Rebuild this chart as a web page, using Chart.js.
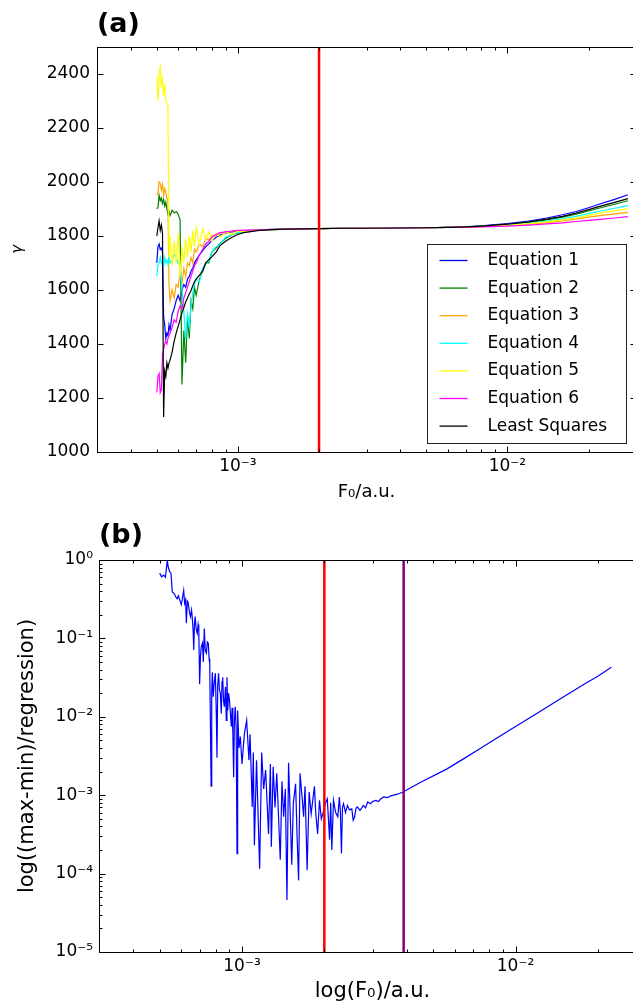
<!DOCTYPE html>
<html>
<head>
<meta charset="utf-8">
<title>gamma vs F0</title>
<script src="https://cdn.jsdelivr.net/npm/chart.js@4/dist/chart.umd.min.js"></script>
<style>
  html, body { margin: 0; padding: 0; background: #fff; width: 633px; height: 1005px; overflow: hidden; }
  canvas { position: absolute; left: 0; display: block; }
  #chartA { top: 0; }
  #chartB { top: 505px; }
</style>
</head>
<body>
<canvas id="chartA" width="640" height="505"></canvas>
<canvas id="chartB" width="650" height="500"></canvas>
<script>
// ---------- panel (a): gamma for each equation ----------
var fA = [5.00e-4, 5.05e-4, 5.10e-4, 5.15e-4, 5.20e-4, 5.25e-4, 5.30e-4, 5.35e-4, 5.40e-4, 5.45e-4, 5.50e-4, 5.55e-4, 5.60e-4,
  5.70e-4, 5.80e-4, 5.90e-4, 6.00e-4, 6.10e-4, 6.20e-4, 6.30e-4, 6.40e-4, 6.50e-4, 6.60e-4, 6.70e-4, 6.80e-4, 6.90e-4, 7.00e-4,
  7.20e-4, 7.40e-4, 7.60e-4, 7.80e-4, 8.00e-4, 8.30e-4, 8.60e-4, 9.00e-4, 9.50e-4,
  1.00e-3, 1.05e-3, 1.10e-3, 1.20e-3, 1.35e-3, 1.50e-3, 1.75e-3, 2.00e-3, 2.50e-3, 3.00e-3, 4.00e-3, 5.00e-3, 6.00e-3, 7.00e-3, 8.00e-3,
  1.00e-2, 1.20e-2, 1.40e-2, 1.60e-2, 1.80e-2, 2.00e-2, 2.20e-2, 2.50e-2, 2.80e-2];

var eq1 = [1700, 1760, 1770, 1750, 1755, 1740, 1500, 1470, 1420, 1440, 1430, 1470, 1450,
  1510, 1530, 1560, 1580, 1560, 1600, 1620, 1610, 1640, 1650, 1670, 1680, 1700, 1710,
  1730, 1745, 1760, 1770, 1782, 1795, 1803, 1810, 1815,
  1818, 1819, 1820, 1822, 1824, 1825, 1826, 1827, 1828, 1828, 1829, 1830, 1831, 1833, 1837,
  1845, 1855, 1866, 1878, 1890, 1904, 1918, 1935, 1952];
var eq2 = [1900, 1905, 1950, 1930, 1940, 1920, 1935, 1910, 1925, 1900, 1880, 1890, 1875,
  1895, 1885, 1890, 1880, 1860, 1250, 1450, 1330, 1500, 1420, 1560, 1530, 1610, 1580,
  1640, 1670, 1700, 1700, 1740, 1755, 1772, 1790, 1805,
  1811, 1815, 1818, 1821, 1823, 1825, 1826, 1827, 1828, 1828, 1829, 1830, 1831, 1832, 1836,
  1842, 1850, 1859, 1869, 1880, 1892, 1903, 1917, 1930];
var eq3 = [1950, 1960, 2000, 1995, 1970, 1990, 1950, 1975, 1960, 1940, 1930, 1620, 1560,
  1600, 1570, 1620, 1610, 1660, 1620, 1680, 1650, 1700, 1690, 1720, 1700, 1750, 1740,
  1770, 1760, 1790, 1785, 1800, 1800, 1812, 1810, 1818,
  1818, 1819, 1820, 1821, 1823, 1825, 1826, 1827, 1828, 1828, 1829, 1830, 1831, 1832, 1834,
  1838, 1843, 1849, 1855, 1862, 1869, 1875, 1881, 1887];
var eq4 = [1650, 1690, 1700, 1720, 1700, 1710, 1690, 1720, 1700, 1710, 1695, 1720, 1700,
  1710, 1730, 1720, 1700, 1690, 1600, 1520, 1415, 1510, 1460, 1540, 1590, 1620, 1640,
  1630, 1680, 1700, 1705, 1740, 1760, 1770, 1795, 1805,
  1812, 1815, 1818, 1821, 1823, 1825, 1826, 1827, 1828, 1828, 1829, 1830, 1831, 1833, 1835,
  1840, 1847, 1855, 1863, 1872, 1882, 1891, 1902, 1912];
var eq5 = [2390, 2300, 2400, 2425, 2350, 2380, 2320, 2360, 2300, 2290, 2280, 1720, 1800,
  1690, 1780, 1700, 1810, 1650, 1760, 1700, 1790, 1720, 1800, 1740, 1820, 1760, 1830,
  1770, 1825, 1790, 1815, 1780, 1810, 1795, 1815, 1805,
  1818, 1815, 1820, 1821, 1823, 1825, 1826, 1827, 1828, 1828, 1829, 1830, 1831, 1832, 1834,
  1839, 1845, 1852, 1859, 1867, 1876, 1884, 1893, 1900];
var eq6 = [1220, 1280, 1290, 1220, 1230, 1360, 1380, 1400, 1410, 1400, 1420, 1430, 1440,
  1460, 1490, 1480, 1520, 1540, 1530, 1570, 1590, 1610, 1630, 1650, 1670, 1690, 1700,
  1730, 1750, 1770, 1780, 1795, 1805, 1812, 1815, 1818,
  1820, 1820, 1821, 1822, 1824, 1825, 1826, 1827, 1828, 1828, 1829, 1830, 1831, 1832, 1833,
  1836, 1840, 1844, 1848, 1853, 1857, 1861, 1866, 1871];
var leastSq = [1800, 1830, 1855, 1820, 1840, 1810, 1130, 1300, 1280, 1330, 1310, 1330, 1340,
  1370, 1410, 1440, 1465, 1490, 1515, 1535, 1555, 1570, 1585, 1598, 1615, 1630, 1640,
  1655, 1670, 1700, 1712, 1722, 1740, 1765, 1780, 1795,
  1805, 1812, 1815, 1820, 1823, 1825, 1826, 1827, 1828, 1828, 1829, 1830, 1831, 1833, 1836,
  1843, 1852, 1862, 1872, 1884, 1897, 1909, 1924, 1938];

var seriesNames = ['Equation 1', 'Equation 2', 'Equation 3', 'Equation 4', 'Equation 5', 'Equation 6', 'Least Squares'];
var seriesColors = ['#0000ff', '#008000', '#ffa500', '#00ffff', '#ffff00', '#ff00ff', '#000000'];
var seriesValues = [eq1, eq2, eq3, eq4, eq5, eq6, leastSq];

// ---------- panel (b): (max-min)/regression ----------
var fB = [5.00e-4, 5.08e-4, 5.17e-4, 5.25e-4, 5.33e-4, 5.37e-4, 5.44e-4, 5.50e-4, 5.56e-4, 5.66e-4, 5.72e-4, 5.79e-4, 5.85e-4, 5.92e-4,
  6.00e-4, 6.06e-4, 6.12e-4, 6.17e-4, 6.22e-4, 6.26e-4, 6.31e-4, 6.35e-4, 6.42e-4, 6.48e-4, 6.54e-4, 6.59e-4, 6.63e-4, 6.66e-4,
  6.70e-4, 6.74e-4, 6.80e-4, 6.86e-4, 6.91e-4, 6.95e-4, 7.00e-4, 7.05e-4, 7.10e-4, 7.17e-4, 7.22e-4, 7.28e-4, 7.34e-4, 7.41e-4,
  7.47e-4, 7.53e-4, 7.58e-4, 7.62e-4, 7.71e-4, 7.75e-4, 7.79e-4, 7.85e-4, 7.92e-4, 7.99e-4, 8.05e-4, 8.10e-4, 8.15e-4, 8.21e-4,
  8.27e-4, 8.33e-4, 8.40e-4, 8.45e-4, 8.50e-4, 8.56e-4, 8.62e-4, 8.70e-4, 8.76e-4, 8.81e-4, 8.87e-4, 8.93e-4, 9.00e-4, 9.07e-4,
  9.14e-4, 9.20e-4, 9.26e-4, 9.32e-4, 9.38e-4, 9.45e-4, 9.52e-4, 9.59e-4, 9.64e-4, 9.75e-4, 9.86e-4,
  1.00e-3, 1.02e-3, 1.04e-3, 1.06e-3, 1.07e-3, 1.09e-3, 1.10e-3, 1.11e-3, 1.13e-3, 1.16e-3, 1.18e-3, 1.20e-3, 1.22e-3, 1.25e-3,
  1.27e-3, 1.28e-3, 1.30e-3, 1.32e-3, 1.34e-3, 1.38e-3, 1.40e-3, 1.42e-3, 1.44e-3, 1.46e-3, 1.48e-3, 1.50e-3, 1.52e-3, 1.54e-3,
  1.57e-3, 1.59e-3, 1.61e-3, 1.63e-3, 1.66e-3, 1.68e-3, 1.70e-3, 1.73e-3, 1.76e-3, 1.79e-3, 1.84e-3, 1.86e-3, 1.89e-3, 1.92e-3,
  1.95e-3, 1.99e-3, 2.02e-3, 2.05e-3, 2.07e-3, 2.09e-3, 2.11e-3, 2.13e-3, 2.16e-3, 2.20e-3, 2.24e-3, 2.27e-3, 2.29e-3, 2.31e-3,
  2.33e-3, 2.35e-3, 2.39e-3, 2.43e-3, 2.47e-3, 2.52e-3, 2.55e-3, 2.58e-3, 2.61e-3, 2.64e-3, 2.70e-3, 2.75e-3, 2.78e-3, 2.83e-3,
  2.88e-3, 2.95e-3, 3.00e-3, 3.08e-3, 3.15e-3, 3.22e-3, 3.30e-3, 3.40e-3, 3.50e-3, 3.59e-3, 3.70e-3, 3.88e-3,
  4.50e-3, 5.60e-3, 6.50e-3, 7.40e-3, 8.50e-3, 1.00e-2, 1.20e-2, 1.50e-2, 1.80e-2, 2.00e-2, 2.24e-2];
var spread = [0.68, 0.61, 0.64, 0.60, 1.00, 0.82, 0.71, 0.68, 0.39, 0.37, 0.34, 0.32, 0.35, 0.31,
  0.27, 0.33, 0.41, 0.28, 0.31, 0.156, 0.30, 0.29, 0.22, 0.19, 0.23, 0.17, 0.12, 0.071,
  0.15, 0.19, 0.13, 0.116, 0.15, 0.128, 0.026, 0.06, 0.079, 0.087, 0.05, 0.134, 0.07, 0.065,
  0.09, 0.087, 0.055, 0.048, 0.0013, 0.02, 0.037, 0.018, 0.028, 0.036, 0.012, 0.003, 0.025, 0.036,
  0.022, 0.020, 0.011, 0.028, 0.032, 0.016, 0.0134, 0.024, 0.009, 0.032, 0.012, 0.02, 0.0164, 0.011,
  0.0075, 0.013, 0.006, 0.0017, 0.009, 0.0134, 0.007, 0.00018, 0.012, 0.004, 0.0056,
  0.0025, 0.006, 0.009, 0.0028, 0.006, 0.00071, 0.0035, 0.00023, 0.0028, 0.000115, 0.0035, 0.0012, 0.0021, 0.00032,
  0.0025, 0.00022, 0.0023, 0.0007, 0.0019, 0.00015, 0.0015, 0.00053, 0.0012, 0.000046, 0.0026, 0.0006, 0.00013, 0.00078,
  0.0014, 0.0003, 0.000082, 0.0019, 0.0009, 0.00053, 0.0013, 0.00011, 0.0011, 0.00058, 0.0013, 0.0006, 0.00032, 0.00086,
  0.0005, 0.00064, 0.0008, 0.0009, 0.0005, 0.00027, 0.0008, 0.0002, 0.00086, 0.0006, 0.00053, 0.00095, 0.0006, 0.00018,
  0.0007, 0.00078, 0.0006, 0.00074, 0.00065, 0.00067, 0.00048, 0.00053, 0.00068, 0.00071, 0.00064, 0.0007, 0.00074, 0.00069,
  0.00082, 0.00078, 0.00083, 0.00086, 0.00083, 0.0009, 0.00095, 0.00093, 0.00098, 0.001, 0.00103, 0.0011,
  0.00146, 0.00215, 0.00295, 0.0039, 0.0053, 0.0075, 0.0111, 0.018, 0.0266, 0.033, 0.0428];

// vertical markers
var redLineF = 2.0e-3;
var purpleLineF = 3.9e-3;

// axis ticks
var fTicks = [3e-4, 4e-4, 5e-4, 6e-4, 7e-4, 8e-4, 9e-4, 1e-3, 2e-3, 3e-3, 4e-3, 5e-3, 6e-3, 7e-3, 8e-3, 9e-3, 1e-2, 2e-2, 3e-2];
var gammaTicks = [1000, 1200, 1400, 1600, 1800, 2000, 2200, 2400];
var ratioDecades = [1e-5, 1e-4, 1e-3, 1e-2, 1e-1];
var ratioTicks = [];
ratioDecades.forEach(function (d) {
  for (var k = 1; k <= 9; k++) ratioTicks.push(k * d);
});
ratioTicks.push(1);

var FONT = "'DejaVu Sans', sans-serif";
Chart.defaults.font.family = FONT;
Chart.defaults.color = '#000';

function isPow10(v) {
  var e = Math.log10(v);
  return Math.abs(e - Math.round(e)) < 1e-6;
}

function powLabel(v) {
  if (!isPow10(v)) return '';
  var sup = { '-': '\u207b', '0': '\u2070', '1': '\u00b9', '2': '\u00b2', '3': '\u00b3', '4': '\u2074',
    '5': '\u2075', '6': '\u2076', '7': '\u2077', '8': '\u2078', '9': '\u2079' };
  return '10' + String(Math.round(Math.log10(v))).split('').map(function (c) { return sup[c]; }).join('');
}

function setTicks(list, logScale) {
  return function (scale) {
    scale.ticks = list.map(function (v) {
      return { value: v, major: logScale ? isPow10(v) : true };
    });
  };
}

function points(xs, ys) {
  return xs.map(function (x, i) { return { x: x, y: ys[i] }; });
}

// box + inward ticks on all four sides, matplotlib classic look
var frameTicks = {
  id: 'frameTicks',
  afterDatasetsDraw: function (chart) {
    var ctx = chart.ctx, a = chart.chartArea, x = chart.scales.x, y = chart.scales.y;
    var L = Math.round(a.left) + 0.5, R = Math.round(a.right) + 0.5;
    var T = Math.round(a.top) + 0.5, B = Math.round(a.bottom) + 0.5;
    ctx.save();
    ctx.strokeStyle = '#000';
    ctx.lineWidth = 1;
    ctx.strokeRect(L, T, R - L, B - T);
    ctx.beginPath();
    x.ticks.forEach(function (t) {
      var px = Math.round(x.getPixelForValue(t.value)) + 0.5;
      if (px <= L + 1 || px >= R - 1) return;
      var len = t.major ? 6 : 3;
      ctx.moveTo(px, B); ctx.lineTo(px, B - len);
      ctx.moveTo(px, T); ctx.lineTo(px, T + len);
    });
    y.ticks.forEach(function (t) {
      var py = Math.round(y.getPixelForValue(t.value)) + 0.5;
      if (py <= T + 1 || py >= B - 1) return;
      var len = t.major ? 6 : 3;
      ctx.moveTo(L, py); ctx.lineTo(L + len, py);
      ctx.moveTo(R, py); ctx.lineTo(R - len, py);
    });
    ctx.stroke();
    ctx.restore();
  }
};

// framed legend in the lower right of the plot area
var boxLegend = {
  id: 'boxLegend',
  afterDraw: function (chart, args, opts) {
    if (!opts.show) return;
    var ctx = chart.ctx, a = chart.chartArea;
    var items = chart.data.datasets.filter(function (d) { return d.inLegend; });
    items.sort(function (p, q) { return p.legendIndex - q.legendIndex; });
    var w = 199, h = 199;
    var left = Math.round(a.right - 10 - w) + 0.5, top = Math.round(a.bottom - 9 - h) + 0.5;
    ctx.save();
    ctx.fillStyle = '#fff';
    ctx.strokeStyle = '#222';
    ctx.lineWidth = 1;
    ctx.fillRect(left, top, w, h);
    ctx.strokeRect(left, top, w, h);
    ctx.font = '17px ' + FONT;
    ctx.textBaseline = 'middle';
    ctx.textAlign = 'left';
    items.forEach(function (d, i) {
      var cy = top + 16 + i * 27.6;
      ctx.strokeStyle = d.borderColor;
      ctx.lineWidth = 1.3;
      ctx.beginPath();
      ctx.moveTo(left + 12, cy);
      ctx.lineTo(left + 40, cy);
      ctx.stroke();
      ctx.fillStyle = '#000';
      ctx.fillText(d.label, left + 60, cy);
    });
    ctx.restore();
  }
};

// ---------- chart (a) ----------
var dsA = [{
  label: '', data: [{ x: redLineF, y: 1000 }, { x: redLineF, y: 2500 }],
  borderColor: '#ff0000', borderWidth: 2.5, order: 0
}];
for (var i = seriesValues.length - 1; i >= 0; i--) {
  dsA.push({
    label: seriesNames[i],
    data: points(fA, seriesValues[i]),
    borderColor: seriesColors[i],
    borderWidth: 1.2,
    order: seriesValues.length - i,
    inLegend: true,
    legendIndex: i
  });
}

new Chart(document.getElementById('chartA'), {
  type: 'line',
  data: { datasets: dsA },
  options: {
    responsive: false,
    animation: false,
    events: [],
    elements: { point: { radius: 0 }, line: { tension: 0, fill: false } },
    layout: { autoPadding: false, padding: { left: 0, right: 3, top: 0, bottom: 0 } },
    plugins: {
      legend: { display: false },
      tooltip: { enabled: false },
      title: {
        display: true, text: '(a)', align: 'start', fullSize: false, color: '#000',
        font: { size: 27, weight: 'bold' }, padding: { top: 9, bottom: 5.3 }
      },
      boxLegend: { show: true }
    },
    scales: {
      x: {
        type: 'logarithmic', min: 3e-4, max: 3e-2,
        afterBuildTicks: setTicks(fTicks, true),
        afterFit: function (s) { s.height = 53; },
        grid: { display: false, drawTicks: false },
        border: { display: false },
        ticks: { autoSkip: false, maxRotation: 0, padding: 4, font: { size: 17 }, callback: powLabel },
        title: { display: true, text: 'F\u2080/a.u.', font: { size: 18 }, padding: { top: 0, bottom: 2 } }
      },
      y: {
        type: 'linear', min: 1000, max: 2500,
        afterBuildTicks: setTicks(gammaTicks, false),
        afterFit: function (s) { s.width = 97; },
        grid: { display: false, drawTicks: false },
        border: { display: false },
        ticks: { autoSkip: false, padding: 7, font: { size: 17 }, callback: function (v) { return String(v); } },
        title: { display: true, text: '\u03b3', font: { size: 15, style: 'italic' }, padding: { top: 9, bottom: 0 } }
      }
    }
  },
  plugins: [frameTicks, boxLegend]
});

// ---------- chart (b) ----------
new Chart(document.getElementById('chartB'), {
  type: 'line',
  data: {
    datasets: [
      { label: '', data: [{ x: redLineF, y: 1e-5 }, { x: redLineF, y: 1 }], borderColor: '#ff0000', borderWidth: 2.5, order: 0 },
      { label: '', data: [{ x: purpleLineF, y: 1e-5 }, { x: purpleLineF, y: 1 }], borderColor: '#800080', borderWidth: 2.5, order: 0 },
      { label: 'spread', data: points(fB, spread), borderColor: '#0000ff', borderWidth: 1.2, order: 1 }
    ]
  },
  options: {
    responsive: false,
    animation: false,
    events: [],
    elements: { point: { radius: 0 }, line: { tension: 0, fill: false } },
    layout: { autoPadding: false, padding: { left: 0, right: 3, top: 0, bottom: 0 } },
    plugins: {
      legend: { display: false },
      tooltip: { enabled: false },
      title: {
        display: true, text: '(b)', align: 'start', fullSize: false, color: '#000',
        font: { size: 27, weight: 'bold' }, padding: { top: 15, bottom: 7.6 }
      },
      boxLegend: { show: false }
    },
    scales: {
      x: {
        type: 'logarithmic', min: 3e-4, max: 3e-2,
        afterBuildTicks: setTicks(fTicks, true),
        afterFit: function (s) { s.height = 53; },
        grid: { display: false, drawTicks: false },
        border: { display: false },
        ticks: { autoSkip: false, maxRotation: 0, padding: 4, font: { size: 17 }, callback: powLabel },
        title: { display: true, text: 'log(F\u2080)/a.u.', font: { size: 21 }, padding: { top: 0, bottom: 1 } }
      },
      y: {
        type: 'logarithmic', min: 1e-5, max: 1,
        afterBuildTicks: setTicks(ratioTicks, true),
        afterFit: function (s) { s.width = 99; },
        grid: { display: false, drawTicks: false },
        border: { display: false },
        ticks: { autoSkip: false, padding: 6, font: { size: 17 }, callback: powLabel },
        title: { display: true, text: 'log((max-min)/regression)', font: { size: 21 }, padding: { top: 15, bottom: 0 } }
      }
    }
  },
  plugins: [frameTicks, boxLegend]
});
</script>
</body>
</html>
